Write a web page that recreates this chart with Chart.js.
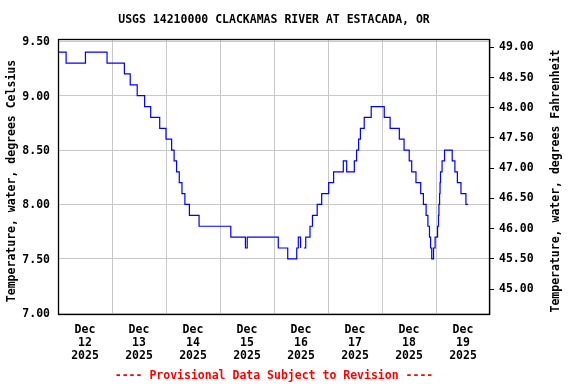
<!DOCTYPE html>
<html>
<head>
<meta charset="utf-8">
<script src="https://cdn.jsdelivr.net/npm/chart.js@4/dist/chart.umd.min.js"></script>
<style>
  html, body { margin: 0; padding: 0; background: #fff; }
  #wrap { width: 576px; height: 384px; }
</style>
</head>
<body>
<div id="wrap"><canvas id="tempChart" width="576" height="384"></canvas></div>
<script>
// hours since Dec 12 2025 00:00, and water temperature (deg C) at each step change
const hours = [0, 3.6, 12.2, 21.8, 29.5, 32.1, 35.2, 38.5, 41.2, 45.2,
  48, 50.5, 51.6, 52.7, 53.9, 55.1, 56.4, 58.4, 62.7, 76.8,
  83.3, 84.1, 97.9, 102.1, 106.1, 106.8, 107.8, 108.3, 109.3, 110.1,
  112, 113.1, 115.2, 117.2, 120.3, 122.5, 126.8, 128.3, 131.7, 132.7,
  133.6, 134.4, 136.1, 139.2, 145, 147.6, 151.7, 153.8, 156.1, 157.2,
  159.1, 161.2, 162.4, 163.6, 164.4, 165.1, 165.6, 166.1, 166.9, 167.6,
  168.7, 169.1, 169.3, 169.6, 169.8, 170, 170.7, 171.8, 175.2, 176.4,
  177.5, 179.1, 181.3, 182.2];
const celsius = [9.4, 9.3, 9.4, 9.3, 9.2, 9.1, 9.0, 8.9, 8.8, 8.7,
  8.6, 8.5, 8.4, 8.3, 8.2, 8.1, 8.0, 7.9, 7.8, 7.7,
  7.6, 7.7, 7.6, 7.5, 7.6, 7.7, 7.6, null, 7.6, 7.7,
  7.8, 7.9, 8.0, 8.1, 8.2, 8.3, 8.4, 8.3, 8.4, 8.5,
  8.6, 8.7, 8.8, 8.9, 8.8, 8.7, 8.6, 8.5, 8.4, 8.3,
  8.2, 8.1, 8.0, 7.9, 7.8, 7.7, 7.6, 7.5, 7.6, 7.7,
  7.8, 7.9, 8.0, 8.1, 8.2, 8.3, 8.4, 8.5, 8.4, 8.3,
  8.2, 8.1, 8.0, 8.0];

const tickHours = [0, 12, 24, 36, 48, 60, 72, 84, 96, 108, 120, 132, 144, 156, 168, 180, 192];
const dayLabels = ['12', '13', '14', '15', '16', '17', '18', '19'];
const celsiusTicks = [7.0, 7.5, 8.0, 8.5, 9.0, 9.5];
const fahrenheitTicks = [45.0, 45.5, 46.0, 46.5, 47.0, 47.5, 48.0, 48.5, 49.0];

const cMin = 6.984, cMax = 9.521;
const font = { family: "'DejaVu Sans Mono', monospace", size: 11.5, weight: 'bold' };

const decor = {
  id: 'decor',
  afterDraw(chart) {
    const { ctx, chartArea: a } = chart;
    ctx.save();
    ctx.strokeStyle = '#000';
    ctx.lineWidth = 1.3;
    ctx.strokeRect(a.left + 0.5, a.top + 0.5, a.right - a.left - 1, a.bottom - a.top - 1);
    ctx.font = "bold 11.5px 'DejaVu Sans Mono', monospace";
    ctx.textAlign = 'center';
    ctx.textBaseline = 'middle';
    const cx = (a.left + a.right) / 2;
    ctx.fillStyle = '#000';
    ctx.fillText('USGS 14210000 CLACKAMAS RIVER AT ESTACADA, OR', cx, 20);
    ctx.fillStyle = '#ff0000';
    ctx.fillText('---- Provisional Data Subject to Revision ----', cx, 376);
    ctx.fillStyle = '#000';
    ctx.translate(12, 181);
    ctx.rotate(-Math.PI / 2);
    ctx.fillText('Temperature, water, degrees Celsius', 0, 0);
    ctx.rotate(Math.PI / 2);
    ctx.translate(556 - 12, 0);
    ctx.rotate(-Math.PI / 2);
    ctx.fillText('Temperature, water, degrees Fahrenheit', 0, 0);
    ctx.restore();
  }
};

new Chart(document.getElementById('tempChart'), {
  type: 'line',
  data: {
    labels: hours,
    datasets: [{
      data: hours.map((h, i) => ({ x: h, y: celsius[i] })),
      borderColor: '#0000ff',
      borderWidth: 1.2,
      stepped: true,
      pointRadius: 0,
      spanGaps: false,
      fill: false
    }]
  },
  options: {
    responsive: false,
    animation: false,
    layout: { padding: { top: 39, bottom: 0, left: 0, right: 0 } },
    plugins: { legend: { display: false }, tooltip: { enabled: false } },
    scales: {
      x: {
        type: 'linear',
        min: 0,
        max: 192,
        afterBuildTicks: s => { s.ticks = tickHours.map(v => ({ value: v })); },
        afterFit: s => { s.height = 69; },
        border: { display: false },
        grid: {
          color: c => (c.tick && c.tick.value % 24 === 0) ? '#c8c8c8' : 'rgba(0,0,0,0)',
          drawTicks: false
        },
        ticks: {
          autoSkip: false,
          maxRotation: 0,
          padding: 9,
          color: '#000',
          font: Object.assign({}, font, { lineHeight: 1.1 }),
          callback: (v, i) => (i % 2 === 1) ? ['Dec', dayLabels[(i - 1) / 2], '2025'] : ''
        }
      },
      y: {
        position: 'left',
        min: cMin,
        max: cMax,
        afterBuildTicks: s => { s.ticks = celsiusTicks.map(v => ({ value: v })); },
        afterFit: s => { s.width = 58; },
        border: { display: false },
        grid: { color: '#c8c8c8', drawTicks: false },
        ticks: { padding: 8, labelOffset: 1, color: '#000', font, callback: v => v.toFixed(2) }
      },
      y1: {
        position: 'right',
        min: cMin * 1.8 + 32,
        max: cMax * 1.8 + 32,
        afterBuildTicks: s => { s.ticks = fahrenheitTicks.map(v => ({ value: v })); },
        afterFit: s => { s.width = 86; },
        border: { display: false },
        grid: { drawOnChartArea: false, drawTicks: true, tickLength: 4, color: '#000' },
        ticks: { padding: 5, color: '#000', font, callback: v => v.toFixed(2) }
      }
    }
  },
  plugins: [decor]
});
</script>
</body>
</html>
